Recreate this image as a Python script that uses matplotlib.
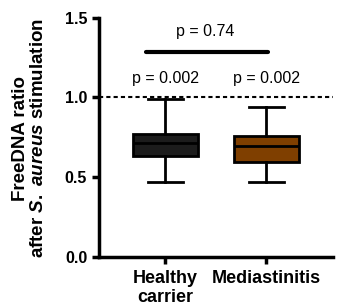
import matplotlib
matplotlib.use("Agg")
import matplotlib.pyplot as plt

plt.rcParams['font.family'] = ['Liberation Sans', 'DejaVu Sans']
plt.rcParams['mathtext.fontset'] = 'custom'
plt.rcParams['mathtext.it'] = 'Liberation Sans:italic:bold'
plt.rcParams['mathtext.rm'] = 'Liberation Sans:bold'

# box statistics
groups = ['Healthy\ncarrier', 'Mediastinitis']
whislo = [0.471, 0.465]
q1 = [0.628, 0.596]
med = [0.712, 0.697]
q3 = [0.770, 0.758]
whishi = [0.988, 0.938]
colors = ['#1c1c1c', '#7f3f00']

p_each = ['p = 0.002', 'p = 0.002']
p_between = 'p = 0.74'

stats = []
for i in range(len(groups)):
    stats.append({'whislo': whislo[i], 'q1': q1[i], 'med': med[i],
                  'q3': q3[i], 'whishi': whishi[i], 'fliers': []})

fig = plt.figure(figsize=(3.46, 3.08), dpi=100)
ax = fig.add_axes([0.286, 0.167, 0.676, 0.776])

pos = [1, 2]
bp = ax.bxp(stats, positions=pos, widths=0.65, patch_artist=True,
            showfliers=False,
            boxprops=dict(linewidth=2, edgecolor='black'),
            whiskerprops=dict(linewidth=2),
            capprops=dict(linewidth=2),
            medianprops=dict(linewidth=2, color='black'),
            capwidths=0.35)
for patch, c in zip(bp['boxes'], colors):
    patch.set_facecolor(c)

# reference line at 1.0
ax.axhline(1.0, color='black', linestyle=(0, (2, 1.5)), linewidth=1.5, zorder=0)

# significance annotations
for x, t in zip(pos, p_each):
    ax.text(x, 1.115, t, ha='center', va='center', fontsize=11.5)
ax.plot([0.81, 2.02], [1.283, 1.283], color='black', linewidth=3,
        solid_capstyle='round')
ax.text(1.39, 1.41, p_between, ha='center', va='center', fontsize=11.5)

ax.set_xlim(0.34, 2.66)
ax.set_ylim(0, 1.5)
ax.set_yticks([0.0, 0.5, 1.0, 1.5])
ax.set_yticklabels(['0.0', '0.5', '1.0', '1.5'], fontweight='bold', fontsize=11.5)
ax.set_xticks(pos)
ax.set_xticklabels(groups, fontweight='bold', fontsize=13, linespacing=1.1)

ax.spines['top'].set_visible(False)
ax.spines['right'].set_visible(False)
ax.spines['left'].set_linewidth(2.5)
ax.spines['bottom'].set_linewidth(2.5)
ax.tick_params(width=2.5, length=5)
ax.tick_params(axis='x', pad=5)

ax.set_ylabel('FreeDNA ratio\nafter $\\mathit{S.\\ aureus}$ stimulation',
              fontweight='bold', fontsize=13.5, linespacing=1.05)
ax.yaxis.set_label_coords(-0.222, 0.495)

fig.savefig('out.png', dpi=100)
